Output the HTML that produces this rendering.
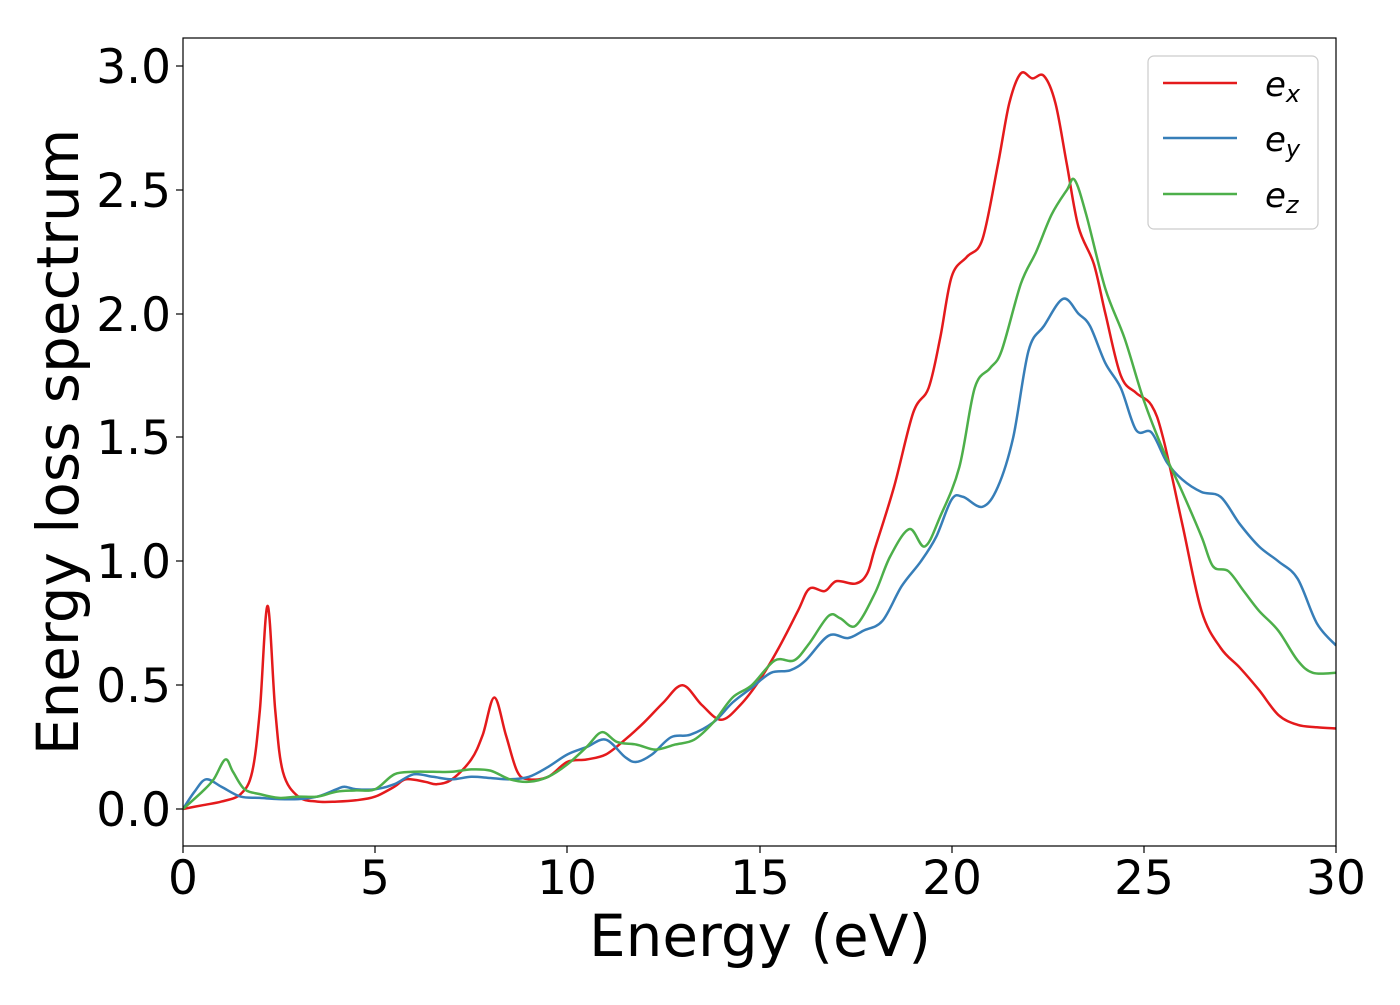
<!DOCTYPE html>
<html><head><meta charset="utf-8"><style>
body{margin:0;background:#fff;}
text{font-family:"DejaVu Sans","Liberation Sans",sans-serif;fill:#000;}
</style></head><body>
<svg width="1400" height="1000" xmlns="http://www.w3.org/2000/svg">
<defs><clipPath id="c"><rect x="183" y="38" width="1153" height="808"/></clipPath></defs>
<g clip-path="url(#c)" fill="none" stroke-width="2.5" stroke-linejoin="round">
<path id="pr" stroke="#e41a1c" data-p="0,0 0.5,0.015 1,0.03 1.5,0.06 1.8,0.15 2.0,0.4 2.2,0.82 2.4,0.4 2.6,0.15 3,0.05 3.5,0.03 4,0.03 4.5,0.035 5,0.05 5.5,0.09 5.8,0.12 6.3,0.11 6.6,0.1 7,0.12 7.5,0.2 7.8,0.3 8.1,0.45 8.4,0.3 8.7,0.15 9,0.12 9.5,0.13 10,0.19 10.5,0.2 11,0.22 11.5,0.28 12,0.35 12.5,0.43 13,0.5 13.5,0.42 14,0.36 14.5,0.42 15,0.52 15.5,0.65 16,0.8 16.3,0.89 16.7,0.88 17,0.92 17.5,0.91 17.8,0.95 18,1.05 18.5,1.3 19,1.6 19.4,1.7 19.7,1.9 20,2.15 20.4,2.23 20.8,2.3 21.2,2.6 21.5,2.85 21.8,2.97 22.1,2.95 22.4,2.96 22.7,2.85 23,2.6 23.3,2.35 23.7,2.2 24,2.0 24.4,1.75 24.8,1.68 25.2,1.63 25.5,1.5 26,1.15 26.5,0.8 27,0.65 27.5,0.57 28,0.48 28.5,0.38 29,0.34 29.5,0.33 30,0.325"/>
<path stroke="#377eb8" data-p="0,0 0.3,0.07 0.6,0.12 1,0.09 1.5,0.05 2,0.045 2.5,0.04 3,0.04 3.5,0.05 4,0.08 4.2,0.09 4.5,0.08 5,0.08 5.5,0.1 6,0.14 6.5,0.13 7,0.12 7.5,0.13 8,0.125 8.5,0.12 9,0.13 9.5,0.17 10,0.22 10.5,0.25 11,0.28 11.5,0.21 11.8,0.19 12.2,0.22 12.7,0.29 13.2,0.3 13.8,0.35 14.3,0.43 14.8,0.49 15.3,0.55 15.8,0.56 16.2,0.6 16.8,0.7 17.3,0.69 17.7,0.72 18.2,0.76 18.7,0.9 19.2,1.0 19.6,1.1 20.0,1.25 20.3,1.26 20.8,1.22 21.2,1.3 21.6,1.5 22,1.85 22.4,1.95 22.9,2.06 23.3,2.0 23.6,1.95 24,1.8 24.4,1.7 24.8,1.53 25.2,1.52 25.6,1.4 26,1.33 26.5,1.28 27,1.26 27.5,1.15 28,1.06 28.5,1.0 29,0.93 29.5,0.75 30,0.66"/>
<path stroke="#4daf4a" data-p="0,0 0.5,0.07 0.8,0.12 1.1,0.2 1.3,0.15 1.6,0.08 2,0.06 2.5,0.045 3,0.05 3.5,0.05 4,0.07 4.5,0.075 5,0.08 5.5,0.14 6,0.15 6.5,0.15 7,0.15 7.5,0.16 8,0.155 8.5,0.12 9,0.11 9.5,0.13 10,0.18 10.5,0.25 10.9,0.31 11.3,0.27 11.8,0.26 12.3,0.24 12.8,0.26 13.3,0.28 13.8,0.35 14.3,0.45 14.8,0.5 15.4,0.6 15.9,0.6 16.3,0.67 16.8,0.78 17.1,0.77 17.5,0.74 18,0.87 18.4,1.02 18.9,1.13 19.3,1.06 19.7,1.18 20.2,1.38 20.6,1.7 21.0,1.78 21.3,1.85 21.8,2.12 22.2,2.25 22.6,2.4 23.0,2.5 23.2,2.54 23.5,2.4 24,2.1 24.5,1.9 25,1.65 25.5,1.45 26,1.28 26.5,1.1 26.8,0.98 27.2,0.96 27.6,0.88 28,0.8 28.5,0.72 29,0.6 29.4,0.55 30,0.55"/>
</g>
<rect x="183" y="38" width="1153" height="808" fill="none" stroke="#000" stroke-width="1.2"/>
<g stroke="#000" stroke-width="1.2">
<line x1="183" y1="846" x2="183" y2="853"/><line x1="375" y1="846" x2="375" y2="853"/><line x1="567" y1="846" x2="567" y2="853"/><line x1="760" y1="846" x2="760" y2="853"/><line x1="952" y1="846" x2="952" y2="853"/><line x1="1144" y1="846" x2="1144" y2="853"/><line x1="1336" y1="846" x2="1336" y2="853"/>
<line x1="176" y1="809" x2="183" y2="809"/><line x1="176" y1="685" x2="183" y2="685"/><line x1="176" y1="561" x2="183" y2="561"/><line x1="176" y1="437" x2="183" y2="437"/><line x1="176" y1="314" x2="183" y2="314"/><line x1="176" y1="190" x2="183" y2="190"/><line x1="176" y1="66" x2="183" y2="66"/>
</g>
<g font-size="47" text-anchor="middle">
<text x="183" y="894">0</text><text x="375" y="894">5</text><text x="567" y="894">10</text><text x="760" y="894">15</text><text x="952" y="894">20</text><text x="1144" y="894">25</text><text x="1336" y="894">30</text>
</g>
<g font-size="47" text-anchor="end">
<text x="171" y="826">0.0</text><text x="171" y="702">0.5</text><text x="171" y="578">1.0</text><text x="171" y="454">1.5</text><text x="171" y="331">2.0</text><text x="171" y="207">2.5</text><text x="171" y="83">3.0</text>
</g>
<text x="760" y="956" font-size="58" text-anchor="middle">Energy (eV)</text>
<text transform="translate(78,442) rotate(-90)" font-size="58" text-anchor="middle">Energy loss spectrum</text>
<rect x="1148" y="56" width="170" height="173" rx="6" fill="#fff" stroke="#ccc" stroke-width="1.2"/>
<line x1="1163" y1="83" x2="1237" y2="83" stroke="#e41a1c" stroke-width="2.5"/>
<line x1="1163" y1="138" x2="1237" y2="138" stroke="#377eb8" stroke-width="2.5"/>
<line x1="1163" y1="194" x2="1237" y2="194" stroke="#4daf4a" stroke-width="2.5"/>
<g font-size="34" font-style="italic">
<text x="1265" y="96">e<tspan font-size="24" dy="6">x</tspan></text>
<text x="1265" y="151">e<tspan font-size="24" dy="6">y</tspan></text>
<text x="1265" y="207">e<tspan font-size="24" dy="6">z</tspan></text>
</g>
</svg>
<script>
document.querySelectorAll('path[data-p]').forEach(function(el){
  var p=el.getAttribute('data-p').trim().split(/\s+/).map(function(s){var a=s.split(',');return [183+38.433*+a[0],809-247.67*+a[1]];});
  var d='M'+p[0][0].toFixed(1)+','+p[0][1].toFixed(1);
  for(var i=0;i<p.length-1;i++){
    var p0=p[i>0?i-1:i],p1=p[i],p2=p[i+1],p3=p[i+2<p.length?i+2:i+1];
    var c1=[p1[0]+(p2[0]-p0[0])/6,p1[1]+(p2[1]-p0[1])/6];
    var c2=[p2[0]-(p3[0]-p1[0])/6,p2[1]-(p3[1]-p1[1])/6];
    d+=' C'+c1[0].toFixed(1)+','+c1[1].toFixed(1)+' '+c2[0].toFixed(1)+','+c2[1].toFixed(1)+' '+p2[0].toFixed(1)+','+p2[1].toFixed(1);
  }
  el.setAttribute('d',d);
});
</script>
</body></html>
